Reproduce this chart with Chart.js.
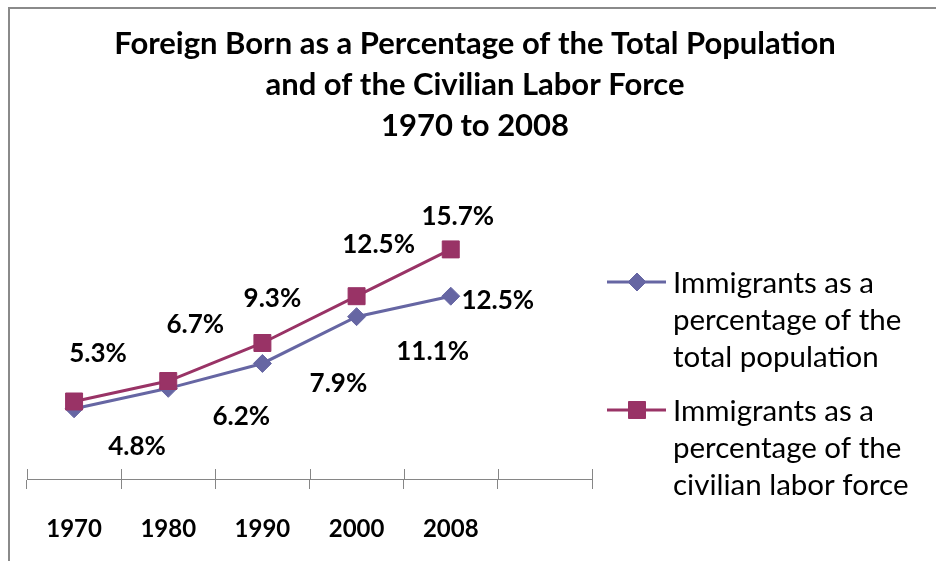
<!DOCTYPE html>
<html lang="en">
<head>
    <meta charset="UTF-8">
    <title>Foreign Born as a Percentage of the Total Population</title>
    <script src="https://cdn.jsdelivr.net/npm/chart.js"></script>
    <style>
        html, body {
            margin: 0;
            padding: 0;
            background: #fff;
            overflow: hidden;
        }
        .frame {
            position: absolute;
            left: 8px;
            top: 7px;
            width: 1000px;
            height: 700px;
            border-top: 2px solid #8a8a8a;
            border-left: 2px solid #8a8a8a;
        }
        #chart {
            position: absolute;
            left: 0;
            top: 0;
        }
    </style>
</head>
<body>
    <div class="frame"></div>
    <canvas id="chart" width="936" height="561"></canvas>

    <script>
        // Data
        const years = ['1970', '1980', '1990', '2000', '2008', ''];
        const totalPopulation = [4.8, 6.2, 7.9, 11.1, 12.5];
        const laborForce = [5.3, 6.7, 9.3, 12.5, 15.7];
        const totalPopulationLabel = ['Immigrants as a', 'percentage of the', 'total population'];
        const laborForceLabel = ['Immigrants as a', 'percentage of the', 'civilian labor force'];

        const blue = '#6666a3';
        const red = '#993366';
        const font = 'Lato, "Open Sans", sans-serif';

        // label offsets from each point (hand placed in the original)
        const labelOffsets = [
            [[63, 38], [73, 28], [76, 20], [76, 35], [47, 4]],
            [[24, -48], [27, -56], [10, -44], [22, -52], [7, -33]]
        ];

        // Value labels next to the points
        const valueLabels = {
            id: 'valueLabels',
            afterDatasetsDraw(chart) {
                const ctx = chart.ctx;
                ctx.save();
                ctx.font = 'bold 26px ' + font;
                ctx.fillStyle = '#000';
                ctx.textAlign = 'center';
                ctx.textBaseline = 'middle';
                chart.data.datasets.forEach((ds, d) => {
                    chart.getDatasetMeta(d).data.forEach((pt, i) => {
                        const off = labelOffsets[d][i];
                        ctx.fillText(ds.data[i].toFixed(1) + '%', pt.x + off[0], pt.y + off[1]);
                    });
                });
                ctx.restore();
            }
        };

        // Tick marks crossing the category axis, and the wrapped legend
        const axisAndLegend = {
            id: 'axisAndLegend',
            afterDraw(chart) {
                const ctx = chart.ctx;
                const x = chart.scales.x;
                const area = chart.chartArea;
                ctx.save();
                ctx.strokeStyle = '#868686';
                ctx.lineWidth = 1;
                for (let i = 0; i <= years.length; i++) {
                    const px = Math.round(x.getPixelForValue(i - 0.5)) + 0.5;
                    ctx.beginPath();
                    ctx.moveTo(px, area.bottom - 10);
                    ctx.lineTo(px, area.bottom);
                    ctx.stroke();
                }

                // legend
                const lx = area.right + 15;
                let ly = 282;
                chart.data.datasets.forEach((ds) => {
                    ctx.strokeStyle = ds.borderColor;
                    ctx.lineWidth = 3;
                    ctx.beginPath();
                    ctx.moveTo(lx, ly);
                    ctx.lineTo(lx + 59, ly);
                    ctx.stroke();
                    ctx.fillStyle = ds.backgroundColor;
                    ctx.lineWidth = 1;
                    Chart.helpers.drawPoint(ctx, {
                        pointStyle: ds.pointStyle,
                        radius: ds.pointRadius,
                        borderWidth: 1,
                        rotation: 0
                    }, lx + 30, ly);
                    ctx.fillStyle = '#000';
                    ctx.font = '29.5px ' + font;
                    ctx.textAlign = 'left';
                    ctx.textBaseline = 'middle';
                    ds.legendLines.forEach((line, j) => {
                        ctx.fillText(line, lx + 66, ly + 1 + j * 37);
                    });
                    ly += 128;
                });
                ctx.restore();
            }
        };

        new Chart(document.getElementById('chart'), {
            type: 'line',
            data: {
                labels: years,
                datasets: [{
                    label: totalPopulationLabel.join(' '),
                    legendLines: totalPopulationLabel,
                    data: totalPopulation,
                    borderColor: blue,
                    backgroundColor: blue,
                    borderWidth: 3,
                    pointStyle: 'rectRot',
                    pointRadius: 9,
                    pointBorderWidth: 1,
                    tension: 0,
                    order: 1
                }, {
                    label: laborForceLabel.join(' '),
                    legendLines: laborForceLabel,
                    data: laborForce,
                    borderColor: red,
                    backgroundColor: red,
                    borderWidth: 3,
                    pointStyle: 'rect',
                    pointRadius: 12,
                    pointBorderWidth: 1,
                    tension: 0,
                    order: 0
                }]
            },
            options: {
                responsive: false,
                animation: false,
                layout: {
                    padding: { left: 27, right: 13, top: 0, bottom: 0 }
                },
                scales: {
                    x: {
                        offset: true,
                        grid: {
                            offset: true,
                            drawOnChartArea: false,
                            drawTicks: true,
                            tickLength: 10,
                            color: '#868686'
                        },
                        border: { display: true, color: '#868686', width: 1 },
                        ticks: {
                            padding: 26,
                            color: '#000',
                            maxRotation: 0,
                            font: { family: font, weight: 'bold', size: 24 }
                        },
                        afterFit: (scale) => { scale.height = 82; }
                    },
                    y: {
                        position: 'right',
                        min: 0,
                        max: 18,
                        grid: { display: false },
                        border: { display: false },
                        ticks: { display: false },
                        afterFit: (scale) => { scale.width = 331; }
                    }
                },
                plugins: {
                    legend: { display: false },
                    tooltip: { enabled: false },
                    title: {
                        display: true,
                        text: [
                            'Foreign Born as a Percentage of the Total Population',
                            'and of the Civilian Labor Force',
                            '1970 to 2008'
                        ],
                        color: '#000',
                        font: { family: font, weight: 'bold', size: 31, lineHeight: 1.32 },
                        padding: { top: 24, bottom: 69 }
                    }
                }
            },
            plugins: [valueLabels, axisAndLegend]
        });
    </script>
</body>
</html>
